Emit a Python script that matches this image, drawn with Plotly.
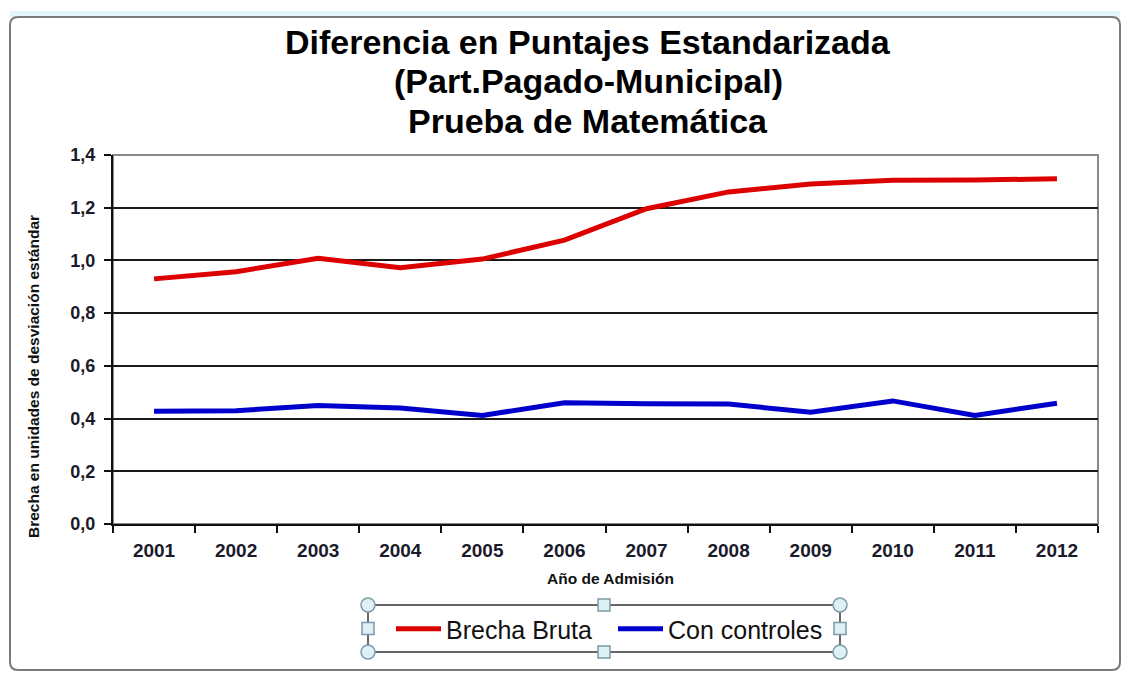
import plotly.graph_objects as go

years = ["2001", "2002", "2003", "2004", "2005", "2006", "2007", "2008", "2009", "2010", "2011", "2012"]
brecha_bruta = [0.93, 0.957, 1.008, 0.972, 1.005, 1.077, 1.196, 1.26, 1.29, 1.304, 1.305, 1.31]
con_controles = [0.428, 0.43, 0.45, 0.44, 0.412, 0.46, 0.456, 0.455, 0.424, 0.467, 0.412, 0.458]
y_ticks = [0.0, 0.2, 0.4, 0.6, 0.8, 1.0, 1.2, 1.4]
title_lines = ["Diferencia en Puntajes Estandarizada", "(Part.Pagado-Municipal)", "Prueba de Matemática"]
x_title = "Año de Admisión"
y_title = "Brecha en unidades de desviación estándar"

W, H = 1124, 673
L, R, T, B = 113, 1098, 155, 524


def xp(px):
    return (px - L) / (R - L)


def yp(py):
    return (B - py) / (B - T)


fig = go.Figure()
fig.add_trace(go.Scatter(x=years, y=brecha_bruta, mode="lines", name="Brecha Bruta",
                         line=dict(color="#dd0000", width=5)))
fig.add_trace(go.Scatter(x=years, y=con_controles, mode="lines", name="Con controles",
                         line=dict(color="#0000cc", width=5)))

shapes = []
# light strip above the frame
shapes.append(dict(type="rect", xref="paper", yref="paper", x0=xp(10), x1=xp(1120), y0=yp(17), y1=yp(11),
                   line=dict(width=0), fillcolor="#e4f5f9", layer="below"))
# outer rounded frame
r = 8
x0, x1, y0, y1 = 10, 1120, 17, 670
path = (f"M {xp(x0 + r)},{yp(y0)} L {xp(x1 - r)},{yp(y0)} Q {xp(x1)},{yp(y0)} {xp(x1)},{yp(y0 + r)} "
        f"L {xp(x1)},{yp(y1 - r)} Q {xp(x1)},{yp(y1)} {xp(x1 - r)},{yp(y1)} "
        f"L {xp(x0 + r)},{yp(y1)} Q {xp(x0)},{yp(y1)} {xp(x0)},{yp(y1 - r)} "
        f"L {xp(x0)},{yp(y0 + r)} Q {xp(x0)},{yp(y0)} {xp(x0 + r)},{yp(y0)} Z")
shapes.append(dict(type="path", xref="paper", yref="paper", path=path,
                   line=dict(color="#7a7a7a", width=2), fillcolor="rgba(0,0,0,0)", layer="below"))
# plot area border (gray top/right)
shapes.append(dict(type="rect", xref="paper", yref="paper", x0=0, x1=1, y0=0, y1=1,
                   line=dict(color="#8a8a8a", width=2), layer="below"))
# legend box
lx0, lx1, ly0, ly1 = 368, 840, 605, 652
shapes.append(dict(type="rect", xref="paper", yref="paper", x0=xp(lx0), x1=xp(lx1), y0=yp(ly1), y1=yp(ly0),
                   line=dict(color="#666666", width=2), layer="above"))
# selection handles
for cx, cy in [(lx0, ly0), (lx1, ly0), (lx0, ly1), (lx1, ly1)]:
    shapes.append(dict(type="circle", xref="paper", yref="paper", xsizemode="pixel", ysizemode="pixel",
                       xanchor=xp(cx), yanchor=yp(cy), x0=-7, x1=7, y0=-7, y1=7,
                       line=dict(color="#7f9aa6", width=1.5), fillcolor="#dcf0f6", layer="above"))
mx = (lx0 + lx1) / 2
my = (ly0 + ly1) / 2
for cx, cy in [(mx, ly0), (mx, ly1), (lx0, my), (lx1, my)]:
    shapes.append(dict(type="rect", xref="paper", yref="paper", xsizemode="pixel", ysizemode="pixel",
                       xanchor=xp(cx), yanchor=yp(cy), x0=-6, x1=6, y0=-6, y1=6,
                       line=dict(color="#7f9aa6", width=1.5), fillcolor="#dcf0f6", layer="above"))

annotations = []
for i, txt in enumerate(title_lines):
    annotations.append(dict(text=f"<b>{txt}</b>", xref="paper", yref="paper", x=xp(588), y=yp(41.5 + 39.5 * i),
                            xanchor="center", yanchor="middle", showarrow=False,
                            font=dict(family="Liberation Sans, Arial", size=34, color="#000000")))
annotations.append(dict(text=f"<b>{x_title}</b>", xref="paper", yref="paper", x=xp(610), y=yp(578),
                        xanchor="center", yanchor="middle", showarrow=False,
                        font=dict(family="Liberation Sans, Arial", size=15.5, color="#111111")))
annotations.append(dict(text=f"<b>{y_title}</b>", xref="paper", yref="paper", x=xp(33), y=yp(377),
                        xanchor="center", yanchor="middle", showarrow=False, textangle=-90,
                        font=dict(family="Liberation Sans, Arial", size=15.5, color="#111111")))

fig.update_layout(
    width=W, height=H,
    margin=dict(l=L, r=W - R, t=T, b=H - B),
    paper_bgcolor="white", plot_bgcolor="white",
    separators=",.",
    shapes=shapes,
    annotations=annotations,
    showlegend=True,
    legend=dict(orientation="h", xanchor="center", yanchor="middle", x=xp(613), y=yp(629),
                font=dict(family="Liberation Sans, Arial", size=25, color="#111111"),
                bgcolor="rgba(0,0,0,0)", borderwidth=0, itemwidth=45,
                entrywidth=162, entrywidthmode="pixels"),
    font=dict(family="Liberation Sans, Arial", color="#111111"),
)
fig.update_xaxes(
    type="category", range=[-0.5, len(years) - 0.5], tickson="boundaries", ticks="outside", ticklen=7,
    tickwidth=2, tickcolor="#111111", ticklabelstandoff=8,
    showline=True, linecolor="#111111", linewidth=2, showgrid=False,
    tickfont=dict(size=19, weight="bold", color="#1a1a2a"),
)
fig.update_yaxes(
    range=[0, 1.4], tickvals=y_ticks, tickformat=".1f", ticks="outside", ticklen=7, tickwidth=2,
    tickcolor="#111111", showline=True, linecolor="#111111", linewidth=2, ticklabelstandoff=5,
    showgrid=True, gridcolor="#1a1a1a", gridwidth=1.6, zeroline=False,
    tickfont=dict(size=18, weight="bold", color="#1a1a2a"),
)

fig.write_html("out.html", post_script="document.body.style.margin='0';",
               config={"displayModeBar": False})
